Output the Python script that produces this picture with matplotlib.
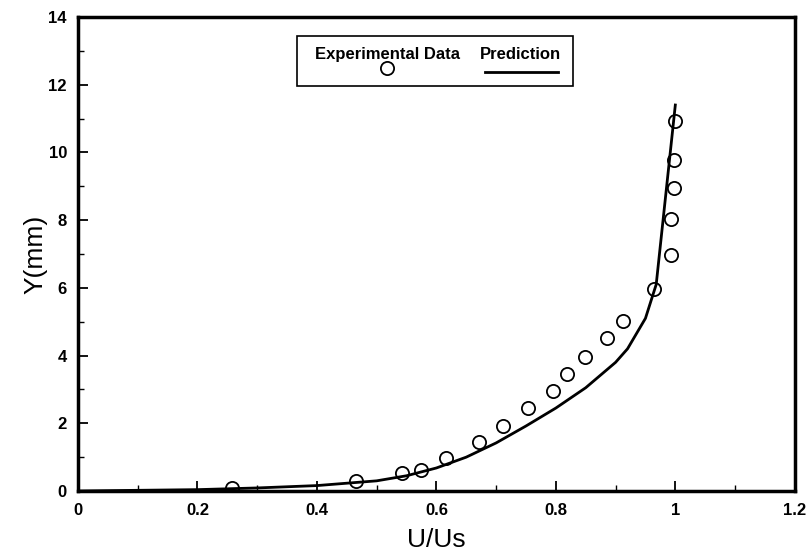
import numpy as np
import matplotlib.pyplot as plt
from matplotlib.patches import Rectangle
from matplotlib.lines import Line2D
from matplotlib.ticker import MultipleLocator

plt.rcParams['font.family'] = ['Liberation Sans', 'DejaVu Sans']

# experimental points (U/Us, Y mm)
exp_u = [0.258, 0.466, 0.543, 0.575, 0.616, 0.672, 0.712, 0.754, 0.796, 0.819,
         0.848, 0.886, 0.913, 0.965, 0.992, 0.992, 0.997, 0.998, 1.0]
exp_y = [0.1, 0.3, 0.53, 0.62, 0.97, 1.45, 1.92, 2.45, 2.95, 3.46,
         3.96, 4.52, 5.02, 5.97, 6.97, 8.03, 8.95, 9.78, 10.93]

# predicted profile
pred_u = [0.0, 0.2, 0.3, 0.4, 0.5, 0.55, 0.6, 0.65, 0.7, 0.75, 0.8, 0.85,
          0.9, 0.92, 0.95, 0.968, 1.0]
pred_y = [0.0, 0.04, 0.09, 0.16, 0.3, 0.45, 0.68, 1.0, 1.42, 1.92, 2.45, 3.05,
          3.8, 4.2, 5.1, 6.1, 11.4]

xtick_labels = ['0', '0.2', '0.4', '0.6', '0.8', '1', '1.2']

fig = plt.figure(figsize=(8.11, 5.57), dpi=100)
ax = fig.add_axes([0.0962, 0.1185, 0.8838, 0.851])

ax.plot(pred_u, pred_y, color='black', linewidth=2)
ax.plot(exp_u, exp_y, 'o', markersize=9.5, markerfacecolor='none',
        markeredgecolor='black', markeredgewidth=1.3)

ax.set_xlim(0, 1.2)
ax.set_ylim(0, 14)
ax.set_xticks(np.arange(0, 1.21, 0.2))
ax.set_xticklabels(xtick_labels)
ax.xaxis.set_minor_locator(MultipleLocator(0.1))
ax.yaxis.set_major_locator(MultipleLocator(2))
ax.yaxis.set_minor_locator(MultipleLocator(1))
ax.tick_params(which='major', direction='in', length=7, width=1.3,
               labelsize=12)
ax.tick_params(axis='x', which='major', pad=9)
ax.tick_params(axis='y', which='major', pad=8)
ax.tick_params(which='minor', direction='in', length=4, width=1.0)
for lab in ax.get_xticklabels() + ax.get_yticklabels():
    lab.set_fontweight('bold')
for sp in ax.spines.values():
    sp.set_linewidth(2.5)

ax.set_xlabel('U/Us', fontsize=19, labelpad=7)
ax.set_ylabel('Y(mm)', fontsize=19, labelpad=1)

# legend box drawn by hand (symbols below labels)
ax.add_patch(Rectangle((0.305, 0.855), 0.385, 0.105, transform=ax.transAxes,
                       fill=False, edgecolor='black', linewidth=1.2))
ax.text(0.432, 0.920, 'Experimental Data', transform=ax.transAxes,
        ha='center', va='center', fontsize=12, fontweight='bold')
ax.text(0.617, 0.920, 'Prediction', transform=ax.transAxes,
        ha='center', va='center', fontsize=12, fontweight='bold')
ax.add_line(Line2D([0.431], [0.893], transform=ax.transAxes, marker='o',
                   markersize=9.5, markerfacecolor='none',
                   markeredgecolor='black', markeredgewidth=1.3))
ax.add_line(Line2D([0.568, 0.670], [0.884, 0.884], transform=ax.transAxes,
                   color='black', linewidth=2))

fig.savefig('out.png', dpi=100)
